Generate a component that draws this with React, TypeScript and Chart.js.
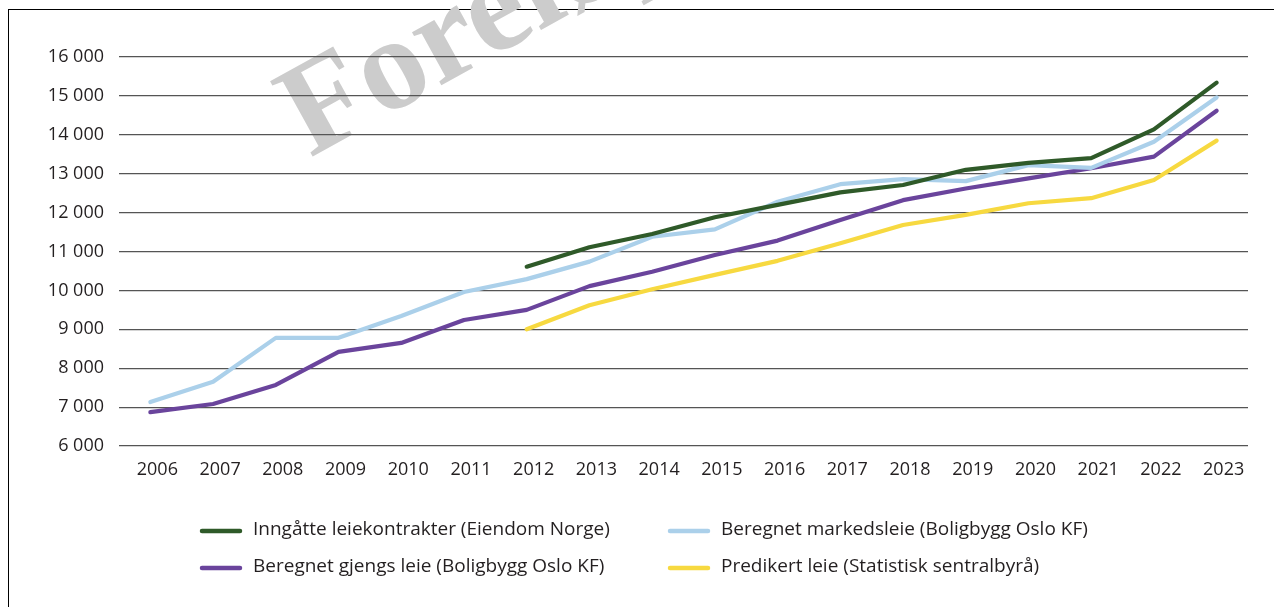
import React, { useEffect, useRef } from "react";
import { Chart, registerables } from "chart.js";

Chart.register(...registerables);

const categories = [
  "2006", "2007", "2008", "2009", "2010", "2011", "2012", "2013", "2014",
  "2015", "2016", "2017", "2018", "2019", "2020", "2021", "2022", "2023",
];

const inngatteLeiekontrakter = [
  null, null, null, null, null, null, 10610, 11110, 11450,
  11880, 12200, 12520, 12710, 13100, 13280, 13400, 14140, 15340,
];
const beregnetMarkedsleie = [
  7130, 7650, 8780, 8780, 9340, 9960, 10290, 10740, 11380,
  11570, 12280, 12730, 12860, 12810, 13220, 13150, 13820, 14960,
];
const beregnetGjengsLeie = [
  6870, 7080, 7570, 8420, 8650, 9240, 9500, 10110, 10480,
  10910, 11280, 11810, 12320, 12620, 12880, 13140, 13440, 14620,
];
const predikertLeie = [
  null, null, null, null, null, null, 9000, 9620, 10030,
  10400, 10760, 11210, 11680, 11940, 12240, 12370, 12840, 13850,
];

const seriesLabels = [
  "Inngåtte leiekontrakter (Eiendom Norge)",
  "Beregnet markedsleie (Boligbygg Oslo KF)",
  "Beregnet gjengs leie (Boligbygg Oslo KF)",
  "Predikert leie (Statistisk sentralbyrå)",
];
const seriesColors = ["#2f5a29", "#abd0ea", "#6a449c", "#f7d940"];

const yMin = 6000;
const yMax = 16000;
const yStep = 1000;
const watermarkText = "Foreløpig";

const FONT = "'Open Sans', sans-serif";

function formatThousands(v: number): string {
  const s = Math.round(v).toString();
  return s.replace(/\B(?=(\d{3})+(?!\d))/g, " ");
}

const watermarkPlugin = {
  id: "watermark",
  beforeDraw(chart: any) {
    const ctx = chart.ctx;
    ctx.save();
    ctx.translate(310, 158);
    ctx.rotate((-29 * Math.PI) / 180);
    ctx.font = "bold 132px 'Liberation Serif', serif";
    ctx.fillStyle = "#cccccc";
    ctx.textBaseline = "alphabetic";
    ctx.textAlign = "left";
    ctx.fillText(watermarkText, 0, 0);
    ctx.restore();
  },
};

const legendPlugin = {
  id: "customLegend",
  afterDraw(chart: any) {
    const ctx = chart.ctx;
    const colX = [200, 668];
    const rowY = [530, 567];
    ctx.save();
    ctx.font = `19px ${FONT}`;
    ctx.textBaseline = "middle";
    ctx.textAlign = "left";
    chart.data.datasets.forEach((ds: any, i: number) => {
      const col = i % 2;
      const row = Math.floor(i / 2);
      const x = colX[col];
      const y = rowY[row];
      ctx.strokeStyle = ds.borderColor;
      ctx.lineWidth = 4.5;
      ctx.lineCap = "round";
      ctx.beginPath();
      ctx.moveTo(x + 2, y + 1);
      ctx.lineTo(x + 40, y + 1);
      ctx.stroke();
      ctx.fillStyle = "#231f20";
      ctx.fillText(ds.label, x + 53, y);
    });
    ctx.restore();
  },
};

export default function App() {
  const canvasRef = useRef<HTMLCanvasElement | null>(null);

  useEffect(() => {
    if (!canvasRef.current) return;
    const dataSeries = [
      inngatteLeiekontrakter,
      beregnetMarkedsleie,
      beregnetGjengsLeie,
      predikertLeie,
    ];
    const chart = new Chart(canvasRef.current, {
      type: "line",
      data: {
        labels: categories,
        datasets: dataSeries.map((d, i) => ({
          label: seriesLabels[i],
          data: d,
          borderColor: seriesColors[i],
          backgroundColor: seriesColors[i],
          borderWidth: 4.2,
          pointRadius: 0,
          pointHoverRadius: 0,
          tension: 0,
          fill: false,
          borderCapStyle: "round",
          borderJoinStyle: "round",
          spanGaps: false,
        })),
      },
      options: {
        animation: false,
        responsive: false,
        devicePixelRatio: 1,
        layout: { padding: { left: 0, right: 26, top: 57, bottom: 121 } },
        plugins: {
          legend: { display: false },
          tooltip: { enabled: false },
          title: { display: false },
        },
        scales: {
          x: {
            offset: true,
            grid: { display: false, drawTicks: false },
            border: { display: false },
            ticks: {
              font: { family: FONT, size: 18 },
              color: "#231f20",
              padding: 13,
              labelOffset: 7,
              maxRotation: 0,
              autoSkip: false,
            },
            afterFit(scale: any) {
              scale.height = 40;
            },
          },
          y: {
            min: yMin,
            max: yMax,
            grid: { color: "#555555", lineWidth: 1.2, drawTicks: false },
            border: { display: false },
            ticks: {
              stepSize: yStep,
              font: { family: FONT, size: 18 },
              color: "#231f20",
              padding: 15,
              callback: (v: any) => formatThousands(Number(v)),
            },
            afterFit(scale: any) {
              scale.width = 119;
            },
          },
        },
      },
      plugins: [watermarkPlugin, legendPlugin],
    });
    return () => chart.destroy();
  }, []);

  return (
    <div
      style={{
        position: "fixed",
        left: 0,
        top: 0,
        width: 1274,
        height: 607,
        overflow: "hidden",
        background: "#fff",
      }}
    >
      <div
        style={{
          position: "absolute",
          left: 7.7,
          top: 8.5,
          width: 1400,
          height: 800,
          borderTop: "1.7px solid #000",
          borderLeft: "1.6px solid #000",
        }}
      />
      <canvas
        ref={canvasRef}
        width={1274}
        height={607}
        style={{ position: "absolute", left: 0, top: 0, width: 1274, height: 607 }}
      />
    </div>
  );
}
